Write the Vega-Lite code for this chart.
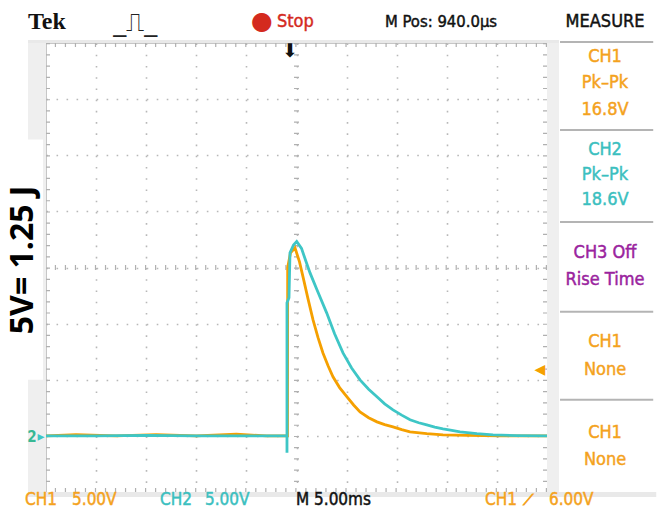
{
  "$schema": "https://vega.github.io/schema/vega-lite/v6.json",
  "width": 501,
  "height": 449,
  "autosize": {"type": "none"},
  "padding": {"left": 46, "top": 43, "right": 122, "bottom": 28},
  "background": "white",
  "view": {"stroke": "#c6c6c6", "strokeWidth": 1},
  "data": {"values": [{}]},
  "config": {
    "font": "DejaVu Sans Condensed, DejaVu Sans, sans-serif",
    "axis": {"labels": false, "ticks": false, "domain": false, "title": null},
    "axisX": {"gridDash": [1.6, 9.625], "gridColor": "#b8b8b8", "gridWidth": 1.6},
    "axisY": {"gridDash": [1.6, 8.42], "gridColor": "#b8b8b8", "gridWidth": 1.6},
    "text": {"fontSize": 18, "strokeWidth": 0.45}
  },
  "datasets": {
    "traces": [
      {"ch": "CH1", "seq": 1, "t": -25, "v": 0},
      {"ch": "CH1", "seq": 2, "t": -22, "v": 0.1},
      {"ch": "CH1", "seq": 3, "t": -18, "v": 0},
      {"ch": "CH1", "seq": 4, "t": -14, "v": 0.12},
      {"ch": "CH1", "seq": 5, "t": -10, "v": 0},
      {"ch": "CH1", "seq": 6, "t": -6, "v": 0.15},
      {"ch": "CH1", "seq": 7, "t": -3, "v": 0},
      {"ch": "CH1", "seq": 8, "t": -0.9, "v": 0},
      {"ch": "CH1", "seq": 9, "t": -0.88, "v": 15.0},
      {"ch": "CH1", "seq": 10, "t": -0.6, "v": 16.3},
      {"ch": "CH1", "seq": 11, "t": -0.15, "v": 16.75},
      {"ch": "CH1", "seq": 12, "t": 0.3, "v": 15.5},
      {"ch": "CH1", "seq": 13, "t": 0.65, "v": 14.16},
      {"ch": "CH1", "seq": 14, "t": 1.15, "v": 12.2},
      {"ch": "CH1", "seq": 15, "t": 1.65, "v": 10.33},
      {"ch": "CH1", "seq": 16, "t": 2.15, "v": 8.75},
      {"ch": "CH1", "seq": 17, "t": 2.64, "v": 7.39},
      {"ch": "CH1", "seq": 18, "t": 3.15, "v": 6.25},
      {"ch": "CH1", "seq": 19, "t": 3.64, "v": 5.26},
      {"ch": "CH1", "seq": 20, "t": 4.3, "v": 4.3},
      {"ch": "CH1", "seq": 21, "t": 5.04, "v": 3.47},
      {"ch": "CH1", "seq": 22, "t": 5.7, "v": 2.75},
      {"ch": "CH1", "seq": 23, "t": 6.34, "v": 2.14},
      {"ch": "CH1", "seq": 24, "t": 7.2, "v": 1.62},
      {"ch": "CH1", "seq": 25, "t": 8.03, "v": 1.25},
      {"ch": "CH1", "seq": 26, "t": 8.8, "v": 1.0},
      {"ch": "CH1", "seq": 27, "t": 9.63, "v": 0.8},
      {"ch": "CH1", "seq": 28, "t": 10.5, "v": 0.55},
      {"ch": "CH1", "seq": 29, "t": 11.33, "v": 0.36},
      {"ch": "CH1", "seq": 30, "t": 13.0, "v": 0.2},
      {"ch": "CH1", "seq": 31, "t": 14.62, "v": 0.09},
      {"ch": "CH1", "seq": 32, "t": 17.0, "v": 0.05},
      {"ch": "CH1", "seq": 33, "t": 20.3, "v": 0},
      {"ch": "CH1", "seq": 34, "t": 25, "v": 0},
      {"ch": "CH2", "seq": 1, "t": -25, "v": 0},
      {"ch": "CH2", "seq": 2, "t": -20, "v": 0},
      {"ch": "CH2", "seq": 3, "t": -15, "v": 0.05},
      {"ch": "CH2", "seq": 4, "t": -10, "v": 0},
      {"ch": "CH2", "seq": 5, "t": -5, "v": 0},
      {"ch": "CH2", "seq": 6, "t": -0.95, "v": 0},
      {"ch": "CH2", "seq": 7, "t": -0.95, "v": -1.5},
      {"ch": "CH2", "seq": 8, "t": -0.95, "v": 11.85},
      {"ch": "CH2", "seq": 9, "t": -0.75, "v": 12.3},
      {"ch": "CH2", "seq": 10, "t": -0.65, "v": 16.3},
      {"ch": "CH2", "seq": 11, "t": -0.3, "v": 17.0},
      {"ch": "CH2", "seq": 12, "t": 0.02, "v": 17.31},
      {"ch": "CH2", "seq": 13, "t": 0.5, "v": 16.7},
      {"ch": "CH2", "seq": 14, "t": 1.0, "v": 15.4},
      {"ch": "CH2", "seq": 15, "t": 1.35, "v": 14.52},
      {"ch": "CH2", "seq": 16, "t": 2.0, "v": 13.1},
      {"ch": "CH2", "seq": 17, "t": 3.01, "v": 10.96},
      {"ch": "CH2", "seq": 18, "t": 3.8, "v": 9.1},
      {"ch": "CH2", "seq": 19, "t": 4.64, "v": 7.39},
      {"ch": "CH2", "seq": 20, "t": 5.5, "v": 6.05},
      {"ch": "CH2", "seq": 21, "t": 6.34, "v": 4.99},
      {"ch": "CH2", "seq": 22, "t": 7.2, "v": 4.15},
      {"ch": "CH2", "seq": 23, "t": 8.0, "v": 3.5},
      {"ch": "CH2", "seq": 24, "t": 8.8, "v": 2.85},
      {"ch": "CH2", "seq": 25, "t": 9.63, "v": 2.32},
      {"ch": "CH2", "seq": 26, "t": 10.5, "v": 1.85},
      {"ch": "CH2", "seq": 27, "t": 11.33, "v": 1.43},
      {"ch": "CH2", "seq": 28, "t": 12.2, "v": 1.17},
      {"ch": "CH2", "seq": 29, "t": 13.0, "v": 0.98},
      {"ch": "CH2", "seq": 30, "t": 13.8, "v": 0.78},
      {"ch": "CH2", "seq": 31, "t": 14.62, "v": 0.62},
      {"ch": "CH2", "seq": 32, "t": 15.5, "v": 0.48},
      {"ch": "CH2", "seq": 33, "t": 16.32, "v": 0.36},
      {"ch": "CH2", "seq": 34, "t": 18.0, "v": 0.2},
      {"ch": "CH2", "seq": 35, "t": 19.61, "v": 0.09},
      {"ch": "CH2", "seq": 36, "t": 22, "v": 0.03},
      {"ch": "CH2", "seq": 37, "t": 25, "v": 0}
    ]
  },
  "layer": [
    {"mark": {"type": "rect", "color": "#efefef"}, "encoding": {"x": {"datum": -26.8}, "x2": {"datum": -25}, "y": {"datum": -5.45}, "y2": {"datum": 35.27}}},
    {"mark": {"type": "rect", "color": "#efefef"}, "encoding": {"x": {"datum": 25}, "x2": {"datum": 26.2}, "y": {"datum": -5.45}, "y2": {"datum": 35.27}}},
    {"mark": {"type": "rect", "color": "#e9e9e9"}, "encoding": {"x": {"datum": -26.8}, "x2": {"datum": 35.9}, "y": {"datum": -5.45}, "y2": {"datum": -5}}},
    {"mark": {"type": "rect", "color": "#e9e9e9"}, "encoding": {"x": {"datum": -26.8}, "x2": {"datum": 26.2}, "y": {"datum": 35}, "y2": {"datum": 35.27}}},
    {"mark": {"type": "rect", "color": "#ffffff"}, "encoding": {"x": {"datum": -29.7}, "x2": {"datum": -25.3}, "y": {"datum": 5.0}, "y2": {"datum": 26.4}}},
    {"mark": {"type": "rule", "color": "#b0b0b0", "strokeWidth": 5, "strokeDash": [1.2, 8.82]}, "encoding": {"y": {"datum": 15}}},
    {"mark": {"type": "rule", "color": "#b0b0b0", "strokeWidth": 5, "strokeDash": [1.2, 10.025]}, "encoding": {"x": {"datum": 0}}},
    {"mark": {"type": "rule", "color": "#b0b0b0", "strokeWidth": 4, "strokeDash": [1.2, 10.025], "xOffset": 2}, "encoding": {"x": {"datum": -25}}},
    {"mark": {"type": "rule", "color": "#b0b0b0", "strokeWidth": 4, "strokeDash": [1.2, 10.025], "xOffset": -2}, "encoding": {"x": {"datum": 25}}},
    {"mark": {"type": "rule", "color": "#b0b0b0", "strokeWidth": 4, "strokeDash": [1.2, 8.82], "yOffset": 2}, "encoding": {"y": {"datum": 35}}},
    {"mark": {"type": "rule", "color": "#b0b0b0", "strokeWidth": 4, "strokeDash": [1.2, 8.82], "yOffset": -2}, "encoding": {"y": {"datum": -5}}},
    {
      "data": {"name": "traces"},
      "mark": {"type": "line", "strokeWidth": 2.8, "interpolate": "linear"},
      "encoding": {
        "x": {"field": "t", "type": "quantitative", "scale": {"domain": [-25, 25], "nice": false, "zero": false},
              "axis": {"values": [-20, -15, -10, -5, 0, 5, 10, 15, 20], "grid": true, "labels": false, "ticks": false, "domain": false, "title": null}},
        "y": {"field": "v", "type": "quantitative", "scale": {"domain": [-5, 35], "nice": false, "zero": false},
              "axis": {"values": [0, 5, 10, 15, 20, 25, 30], "grid": true, "labels": false, "ticks": false, "domain": false, "title": null}},
        "order": {"field": "seq", "type": "quantitative"},
        "color": {"field": "ch", "type": "nominal", "scale": {"domain": ["CH1", "CH2"], "range": ["#f5a000", "#3ec6c6"]}, "legend": null}
      }
    },
    {"mark": {"type": "rule", "color": "#b4b4b4", "strokeWidth": 2}, "encoding": {"x": {"datum": 26.3}, "x2": {"datum": 35.6}, "y": {"datum": 35.1}}},
    {"mark": {"type": "rule", "color": "#b4b4b4", "strokeWidth": 2}, "encoding": {"x": {"datum": 26.3}, "x2": {"datum": 35.6}, "y": {"datum": 27.26}}},
    {"mark": {"type": "rule", "color": "#b4b4b4", "strokeWidth": 2}, "encoding": {"x": {"datum": 26.3}, "x2": {"datum": 35.6}, "y": {"datum": 19.06}}},
    {"mark": {"type": "rule", "color": "#b4b4b4", "strokeWidth": 2}, "encoding": {"x": {"datum": 26.3}, "x2": {"datum": 35.6}, "y": {"datum": 11.05}}},
    {"mark": {"type": "rule", "color": "#b4b4b4", "strokeWidth": 2}, "encoding": {"x": {"datum": 26.3}, "x2": {"datum": 35.6}, "y": {"datum": 3.21}}},
    {"mark": {"type": "text", "text": "Tek", "align": "left", "baseline": "middle", "font": "Liberation Serif", "fontSize": 24, "fontWeight": "bold", "color": "#111111"}, "encoding": {"x": {"datum": -26.8}, "y": {"datum": 36.88}}},
    {"mark": {"type": "text", "text": "_⎍_", "align": "center", "baseline": "middle", "font": "DejaVu Sans", "fontSize": 26, "color": "#222222"}, "encoding": {"x": {"datum": -16.1}, "y": {"datum": 36.75}}},
    {"mark": {"type": "text", "text": "●", "align": "center", "baseline": "middle", "font": "DejaVu Sans", "fontSize": 25, "color": "#d42a1e"}, "encoding": {"x": {"datum": -3.44}, "y": {"datum": 36.95}}},
    {"mark": {"type": "text", "text": "Stop", "align": "left", "baseline": "middle", "color": "#d42a1e", "stroke": "#d42a1e"}, "encoding": {"x": {"datum": -1.95}, "y": {"datum": 36.88}}},
    {"mark": {"type": "text", "text": "M Pos: 940.0µs", "align": "left", "baseline": "middle", "fontSize": 16.5, "color": "#111111", "stroke": "#111111"}, "encoding": {"x": {"datum": 8.83}, "y": {"datum": 36.88}}},
    {"mark": {"type": "text", "text": "MEASURE", "align": "center", "baseline": "middle", "color": "#111111", "stroke": "#111111"}, "encoding": {"x": {"datum": 30.79}, "y": {"datum": 36.88}}},
    {"mark": {"type": "text", "text": ["CH1", "Pk–Pk", "16.8V"], "lineHeight": 26.5, "align": "center", "baseline": "middle", "color": "#f4a21d", "stroke": "#f4a21d"}, "encoding": {"x": {"datum": 30.79}, "y": {"datum": 33.76}}},
    {"mark": {"type": "text", "text": ["CH2", "Pk–Pk", "18.6V"], "lineHeight": 25, "align": "center", "baseline": "middle", "color": "#3bbfbf", "stroke": "#3bbfbf"}, "encoding": {"x": {"datum": 30.79}, "y": {"datum": 25.48}}},
    {"mark": {"type": "text", "text": ["CH3 Off", "Rise Time"], "lineHeight": 27, "align": "center", "baseline": "middle", "color": "#9a239e", "stroke": "#9a239e"}, "encoding": {"x": {"datum": 30.79}, "y": {"datum": 16.3}}},
    {"mark": {"type": "text", "text": ["CH1", "None"], "lineHeight": 28, "align": "center", "baseline": "middle", "color": "#f4a21d", "stroke": "#f4a21d"}, "encoding": {"x": {"datum": 30.79}, "y": {"datum": 8.37}}},
    {"mark": {"type": "text", "text": ["CH1", "None"], "lineHeight": 27, "align": "center", "baseline": "middle", "color": "#f4a21d", "stroke": "#f4a21d"}, "encoding": {"x": {"datum": 30.79}, "y": {"datum": 0.27}}},
    {"mark": {"type": "text", "text": "CH1", "align": "left", "baseline": "middle", "fontSize": 17, "color": "#f4a21d", "stroke": "#f4a21d"}, "encoding": {"x": {"datum": -27.1}, "y": {"datum": -5.75}}},
    {"mark": {"type": "text", "text": "5.00V", "align": "left", "baseline": "middle", "fontSize": 17, "color": "#f4a21d", "stroke": "#f4a21d"}, "encoding": {"x": {"datum": -22.4}, "y": {"datum": -5.75}}},
    {"mark": {"type": "text", "text": "CH2", "align": "left", "baseline": "middle", "fontSize": 17, "color": "#3bbfbf", "stroke": "#3bbfbf"}, "encoding": {"x": {"datum": -13.62}, "y": {"datum": -5.75}}},
    {"mark": {"type": "text", "text": "5.00V", "align": "left", "baseline": "middle", "fontSize": 17, "color": "#3bbfbf", "stroke": "#3bbfbf"}, "encoding": {"x": {"datum": -9.13}, "y": {"datum": -5.75}}},
    {"mark": {"type": "text", "text": "M 5.00ms", "align": "left", "baseline": "middle", "fontSize": 17, "color": "#111111", "stroke": "#111111"}, "encoding": {"x": {"datum": -0.05}, "y": {"datum": -5.75}}},
    {"mark": {"type": "text", "text": "CH1", "align": "left", "baseline": "middle", "fontSize": 17, "color": "#f4a21d", "stroke": "#f4a21d"}, "encoding": {"x": {"datum": 18.81}, "y": {"datum": -5.75}}},
    {"mark": {"type": "text", "text": "⟋", "align": "center", "baseline": "middle", "font": "DejaVu Sans", "fontSize": 15, "color": "#f4a21d", "stroke": "#f4a21d", "strokeWidth": 0.8}, "encoding": {"x": {"datum": 23.2}, "y": {"datum": -5.75}}},
    {"mark": {"type": "text", "text": "6.00V", "align": "left", "baseline": "middle", "fontSize": 17, "color": "#f4a21d", "stroke": "#f4a21d"}, "encoding": {"x": {"datum": 25.2}, "y": {"datum": -5.75}}},
    {"mark": {"type": "text", "text": "5V= 1.25 J", "angle": 270, "align": "center", "baseline": "middle", "font": "Open Sans", "fontSize": 32, "fontWeight": "bold", "color": "#000000", "strokeWidth": 0}, "encoding": {"x": {"datum": -27.25}, "y": {"datum": 15.68}}},
    {"mark": {"type": "text", "text": "⬇", "align": "center", "baseline": "middle", "font": "DejaVu Sans", "fontSize": 19, "color": "#111111"}, "encoding": {"x": {"datum": -0.65}, "y": {"datum": 34.3}}},
    {"mark": {"type": "text", "text": "◀", "align": "center", "baseline": "middle", "font": "DejaVu Sans", "fontSize": 14, "color": "#f5a000"}, "encoding": {"x": {"datum": 24.3}, "y": {"datum": 5.88}}},
    {"mark": {"type": "text", "text": "2", "align": "center", "baseline": "middle", "font": "DejaVu Sans Condensed", "fontSize": 15, "fontWeight": "bold", "color": "#38b894"}, "encoding": {"x": {"datum": -26.4}, "y": {"datum": -0.09}}},
    {"mark": {"type": "text", "text": "▸", "align": "center", "baseline": "middle", "font": "DejaVu Sans", "fontSize": 14, "color": "#3ec6c6"}, "encoding": {"x": {"datum": -25.5}, "y": {"datum": -0.09}}}
  ]
}
